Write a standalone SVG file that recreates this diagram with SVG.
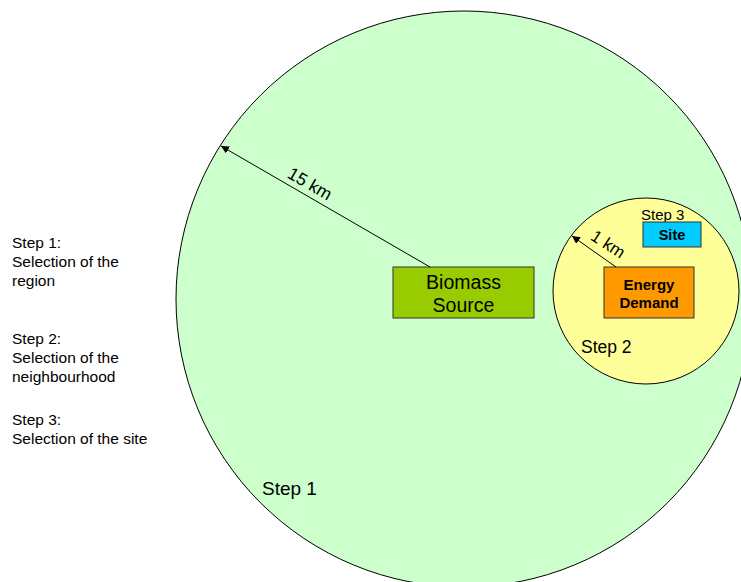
<svg xmlns="http://www.w3.org/2000/svg" width="741" height="582" viewBox="0 0 741 582">
<style>
text { font-family: "Liberation Sans", Arial, sans-serif; fill: #000; }
.zone { stroke: #000; stroke-width: 1; }
.box { stroke: #333; stroke-width: 1; }
.conn { stroke: #000; stroke-width: 1; fill: none; marker-end: url(#ah); }
.note { font-size: 15.5px; }
.bold { font-weight: bold; }
</style>
<defs>
<marker id="ah" viewBox="0 0 10 10" refX="10" refY="5" markerWidth="8" markerHeight="8" markerUnits="userSpaceOnUse" orient="auto">
<path d="M0,0 L10,5 L0,10 z" fill="#000"/>
</marker>
</defs>
<rect width="741" height="582" fill="#fff"/>
<g id="region">
<circle class="zone" cx="464" cy="299" r="288" fill="#CCFFCC"/>
<text x="262" y="495" font-size="19">Step 1</text>
</g>
<g id="neighbourhood">
<circle class="zone" cx="646" cy="291" r="93" fill="#FFFF99"/>
<text x="581" y="353" font-size="17.5">Step 2</text>
</g>
<g id="biomass-source">
<rect class="box" x="393" y="267" width="141" height="51" fill="#99CC00"/>
<text x="463.5" y="288.5" font-size="19.5" text-anchor="middle">Biomass</text>
<text x="463.5" y="311.5" font-size="19.5" text-anchor="middle">Source</text>
</g>
<g id="energy-demand">
<rect class="box" x="604" y="267" width="90" height="51" fill="#FF9900"/>
<text class="bold" x="649" y="289.5" font-size="15" text-anchor="middle">Energy</text>
<text class="bold" x="649" y="307.5" font-size="15" text-anchor="middle">Demand</text>
</g>
<g id="site">
<text x="641" y="220" font-size="15">Step 3</text>
<rect class="box" x="643" y="222" width="58" height="25" fill="#00CCFF"/>
<text class="bold" x="672" y="240" font-size="14.5" text-anchor="middle">Site</text>
</g>
<g id="connectors">
<line class="conn" x1="430" y1="267" x2="221" y2="146"/>
<text x="307" y="189" font-size="17.5" text-anchor="middle" transform="rotate(30 307 189)">15 km</text>
<line class="conn" x1="616" y1="267" x2="572" y2="236"/>
<text x="605" y="249" font-size="17" text-anchor="middle" transform="rotate(33 605 249)">1 km</text>
</g>
<g id="steps-legend">
<text class="note" x="12" y="248">Step 1:</text>
<text class="note" x="12" y="267">Selection of the</text>
<text class="note" x="12" y="286">region</text>
<text class="note" x="12" y="344">Step 2:</text>
<text class="note" x="12" y="363">Selection of the</text>
<text class="note" x="12" y="382">neighbourhood</text>
<text class="note" x="12" y="425">Step 3:</text>
<text class="note" x="12" y="444">Selection of the site</text>
</g>
</svg>
